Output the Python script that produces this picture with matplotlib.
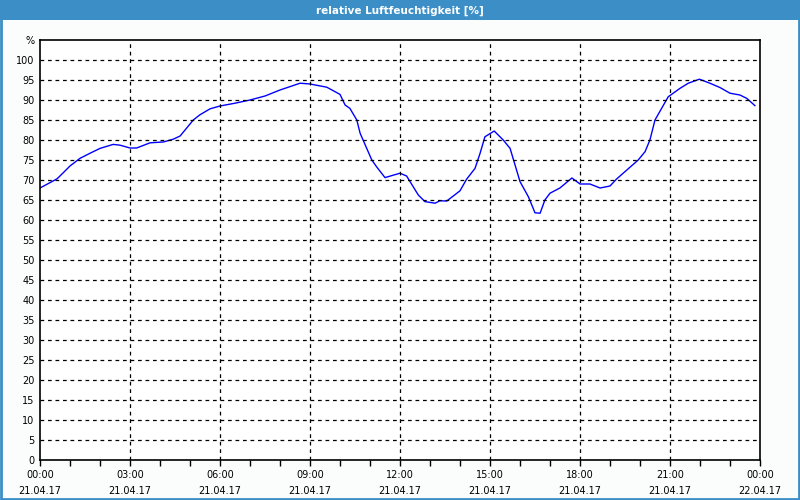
import matplotlib.pyplot as plt
from matplotlib.patches import Rectangle
from matplotlib.ticker import MultipleLocator

# humidity readings (hours since 21.04.17 00:00)
hours = [0.0, 0.25, 0.57, 0.8, 1.0, 1.33, 1.67, 2.0, 2.44, 2.67, 3.0, 3.22, 3.67,
         4.11, 4.44, 4.67, 5.11, 5.33, 5.67, 6.0, 6.5, 7.0, 7.5, 8.0, 8.67, 9.0,
         9.56, 10.0, 10.17, 10.33, 10.56, 10.67, 11.06, 11.22, 11.5, 12.0, 12.22,
         12.61, 12.83, 13.17, 13.33, 13.56, 14.0, 14.22, 14.5, 14.67, 14.83, 15.14,
         15.44, 15.67, 16.0, 16.28, 16.5, 16.67, 16.83, 17.0, 17.33, 17.73, 18.0,
         18.33, 18.67, 19.0, 19.22, 19.94, 20.17, 20.33, 20.5, 20.72, 20.94, 21.33,
         21.61, 21.98, 22.33, 22.67, 23.0, 23.33, 23.56, 23.83]
humidity = [68, 69, 70.3, 72, 73.5, 75.4, 76.7, 77.9, 78.9, 78.7, 78, 78, 79.3,
            79.5, 80.2, 81, 85, 86.3, 87.8, 88.5, 89.2, 90, 91, 92.5, 94.2, 94,
            93.2, 91.4, 88.75, 87.9, 85, 81.7, 75, 73.3, 70.6, 71.7, 71,
            66.25, 64.6, 64.2, 64.8, 64.75, 67.3, 70.2, 72.9, 76.7, 80.8, 82.25,
            80, 77.9, 69.6, 65.8, 61.8, 61.7, 65, 66.7, 68, 70.5, 69,
            69, 68, 68.5, 70.25, 75, 77.1, 80, 85, 87.9, 90.8, 92.9,
            94.2, 95.2, 94.2, 93.1, 91.7, 91.25, 90.4, 88.6]

x_ticks = [0, 3, 6, 9, 12, 15, 18, 21, 24]
x_labels = ['00:00\n21.04.17', '03:00\n21.04.17', '06:00\n21.04.17', '09:00\n21.04.17',
            '12:00\n21.04.17', '15:00\n21.04.17', '18:00\n21.04.17', '21:00\n21.04.17',
            '00:00\n22.04.17']
y_ticks = list(range(0, 105, 5)) + [105]
y_labels = [str(v) for v in range(0, 105, 5)] + ['%']

title_blue = '#3b8fc6'

fig = plt.figure(figsize=(8, 5), dpi=100, facecolor='#fbfdfc')
ax = fig.add_axes([0.05, 0.08, 0.90, 0.84])
ax.set_facecolor('white')

ax.plot(hours, humidity, color='#0000ff', lw=1)

ax.set_xlim(0, 24)
ax.set_ylim(0, 105)
ax.set_xticks(x_ticks)
ax.set_xticklabels(x_labels, linespacing=1.75)
ax.xaxis.set_minor_locator(MultipleLocator(1))
ax.set_yticks(y_ticks)
ax.set_yticklabels(y_labels)
ax.tick_params(axis='x', which='both', direction='out', length=4, width=1, labelsize=7, pad=3)
ax.tick_params(axis='y', length=0, labelsize=7, pad=4)

for v in range(5, 105, 5):
  ax.axhline(v, color='black', lw=0.9, ls=(0, (3, 3)))
for h in x_ticks[1:-1]:
  ax.axvline(h, color='black', lw=0.9, ls=(0, (3, 3)))
for s in ax.spines.values():
  s.set_linewidth(1.2)

# title bar and window border
fig.patches.append(Rectangle((0, 0.96), 1, 0.04, transform=fig.transFigure,
                             facecolor=title_blue, edgecolor='none'))
fig.patches.append(Rectangle((0.001, 0.002), 0.998, 0.996, transform=fig.transFigure,
                             fill=False, edgecolor=title_blue, lw=2))
fig.text(0.5, 0.979, 'relative Luftfeuchtigkeit [%]', color='white', fontsize=7.5,
         fontweight='bold', ha='center', va='center')

fig.savefig('out.png', dpi=100, facecolor=fig.get_facecolor())
